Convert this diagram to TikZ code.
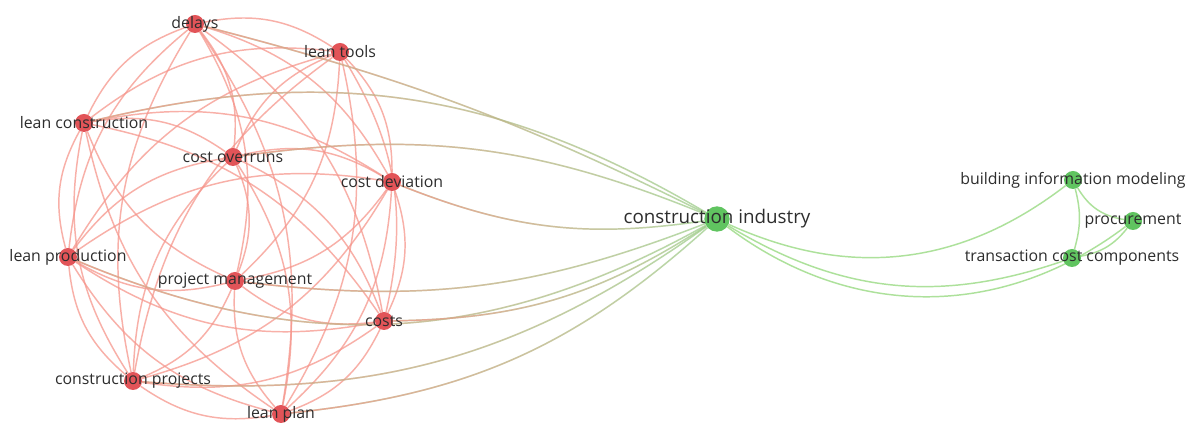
\documentclass[tikz,border=0pt]{standalone}
\usepackage{fontspec}
\setmainfont{Open Sans}
\usetikzlibrary{fadings}
\pgfdeclarelayer{bg}
\pgfsetlayers{bg,main}
\definecolor{rnode}{RGB}{226,84,88}
\definecolor{gnode}{RGB}{96,196,96}
\definecolor{redge}{RGB}{246,150,140}
\definecolor{gedge}{RGB}{165,222,145}
\definecolor{txt}{RGB}{45,45,45}
\tikzfading[name=rtog, left color=transparent!0, right color=transparent!100]
\tikzset{
  rn/.style={circle, fill=rnode, minimum size=13.5pt, inner sep=0pt},
  gn/.style={circle, fill=gnode, minimum size=13.5pt, inner sep=0pt},
  bign/.style={circle, fill=gnode, minimum size=19pt, inner sep=0pt},
  lbl/.style={font=\fontsize{11.9}{14}\selectfont, text=txt, inner sep=0pt},
  biglbl/.style={font=\fontsize{14.1}{17}\selectfont, text=txt, inner sep=0pt},
  re/.style={draw=redge, line width=1.1pt, draw opacity=0.75},
  ge/.style={draw=gedge, line width=1.1pt, draw opacity=0.9},
  mg/.style={draw=gedge!92!black, line width=1.1pt, draw opacity=0.7},
  mr/.style={draw=redge, line width=1.1pt, draw opacity=0.8, path fading=rtog},
  cb/.style={bend right=22}
}
\newcommand{\mixedge}[3]{%
  \draw[mg] (#1) to[#3] (#2);
  \draw[mr] (#1) to[#3] (#2);}
\begin{document}
\begin{tikzpicture}[x=0.75pt, y=0.75pt]
\useasboundingbox (0,0) rectangle (1197,-423);
% red nodes
\node[rn] (dl) at (195,-24) {};
\node[rn] (lt) at (340,-52) {};
\node[rn] (lc) at (84,-123) {};
\node[rn] (co) at (233,-157) {};
\node[rn] (cd) at (392,-182) {};
\node[rn] (lp) at (68,-257) {};
\node[rn] (pm) at (235,-281) {};
\node[rn] (cs) at (384,-321) {};
\node[rn] (cp) at (133,-381) {};
\node[rn] (lpl) at (281,-414) {};
% green nodes
\node[bign] (ci) at (717,-219) {};
\node[gn] (bim) at (1073,-180) {};
\node[gn] (pr) at (1133,-221) {};
\node[gn] (tcc) at (1072,-258) {};
% labels
\node[lbl] (dlL) at (dl) {delays};
\node[lbl] (ltL) at (lt) {lean tools};
\node[lbl] (lcL) at (lc) {lean construction};
\node[lbl] (coL) at (co) {cost overruns};
\node[lbl] (cdL) at (cd) {cost deviation};
\node[lbl] (lpL) at (lp) {lean production};
\node[lbl] (pmL) at (pm) {project management};
\node[lbl] (csL) at (cs) {costs};
\node[lbl] (cpL) at (cp) {construction projects};
\node[lbl] (lplL) at (lpl) {lean plan};
\node[biglbl] (ciL) at (ci) {construction industry};
\node[lbl] (bimL) at (bim) {building information modeling};
\node[lbl] (prL) at (pr) {procurement};
\node[lbl] (tccL) at (tcc) {transaction cost components};
\begin{pgfonlayer}{bg}
\fill[white] (0,0) rectangle (1197,-423);
% red cluster
\foreach \a/\b in {cd/lt, cd/co, cd/dl, cd/lc, cd/lp, cp/cd, pm/cd, lpl/cd, cs/cd,
  lt/co, lt/dl, lt/lc, lt/lp, lt/cp, pm/lt, lpl/lt, cs/lt,
  co/dl, co/lc, co/lp, co/cp, pm/co, lpl/co, cs/co,
  dl/lc, dl/lp, dl/cp, pm/dl, lpl/dl, cs/dl,
  lc/lp, lc/cp, lc/pm, lc/lpl, cs/lc,
  lp/cp, lp/pm, lp/lpl, lp/cs,
  cp/pm, cp/lpl, cp/cs,
  pm/lpl, pm/cs, lpl/cs}
  {\draw[re] (\a) to[cb] (\b);}
% red to construction industry
\mixedge{lc}{ci}{bend left=22}
\mixedge{dl}{ci}{bend left=6}
\mixedge{co}{ci}{bend left=15}
\mixedge{cd}{ci}{bend right=15}
\mixedge{pm}{ci}{bend right=14}
\mixedge{lp}{ci}{bend right=26}
\mixedge{cs}{ci}{bend right=16}
\mixedge{cp}{ci}{bend right=20}
\mixedge{lpl}{ci}{bend right=18}
% green cluster
\draw[ge] (ci) to[bend right=31] (bim);
\draw[ge] (ci) to[bend right=25] (tcc);
\draw[ge] (ci) to[bend right=37] (pr);
\draw[ge] (bim) to[bend left=15] (tcc);
\draw[ge] (bim) to[bend right=25] (pr);
\draw[ge] (tcc) to[bend right=20] (pr);
\end{pgfonlayer}
\end{tikzpicture}
\end{document}
